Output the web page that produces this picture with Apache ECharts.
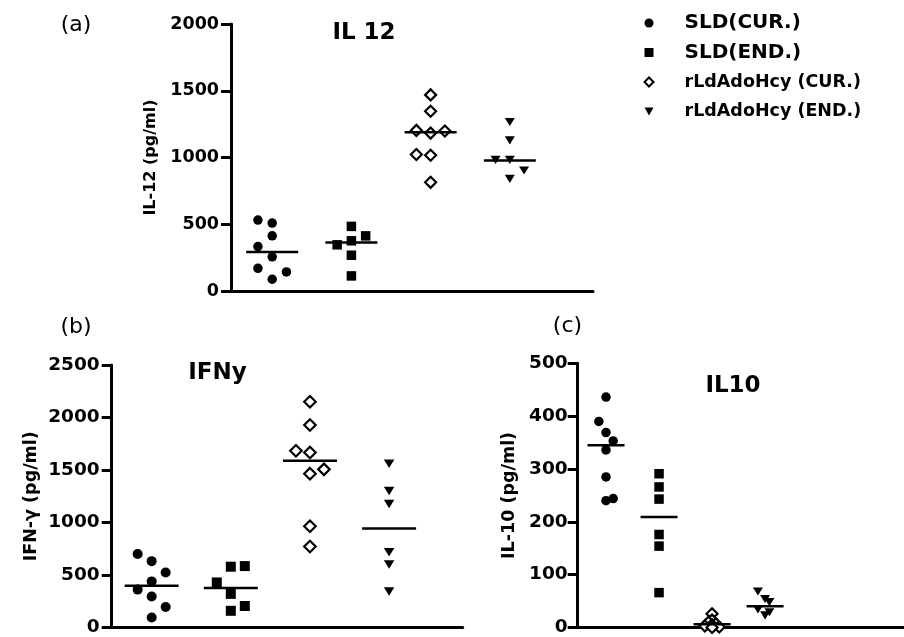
<!DOCTYPE html>
<html>
<head>
<meta charset="utf-8">
<script src="https://cdn.jsdelivr.net/npm/echarts@6/dist/echarts.min.js"></script>
<style>
  body { margin: 0; background: #fff; }
  #main { width: 904px; height: 637px; }
</style>
</head>
<body>
<div id="main"></div>
<script>
// groups (legend order)
var groups = ['SLD(CUR.)', 'SLD(END.)', 'rLdAdoHcy (CUR.)', 'rLdAdoHcy (END.)'];

// (a) IL 12, pg/ml
var il12Values = [
    [531, 509, 413, 333, 256, 170, 143, 88],
    [484, 413, 376, 346, 268, 113],
    [1469, 1346, 1203, 1183, 1198, 1022, 1017, 814],
    [1266, 1128, 982, 982, 902, 840]
];
var il12Lanes = [
    [-1, 0, 0, -1, 0, -1, 1, 0],
    [0, 1, 0, -1, 0, 0],
    [0, 0, -1, 0, 1, -1, 0, 0],
    [0, 0, -1, 0, 1, 0]
];
var il12Median = [293, 363, 1190, 977];
var il12Ticks = [0, 2000, 500];

// (b) IFN-gamma, pg/ml
var ifnValues = [
    [700, 632, 523, 439, 361, 296, 196, 96],
    [579, 585, 429, 320, 205, 159],
    [2150, 1929, 1683, 1667, 1465, 1506, 964, 772],
    [1559, 1300, 1176, 716, 600, 342]
];
var ifnLanes = [
    [-1, 0, 1, 0, -1, 0, 1, 0],
    [0, 1, -1, 0, 1, 0],
    [0, 0, -1, 0, 0, 1, 0, 0],
    [0, 0, 0, 0, 0, 0]
];
var ifnMedian = [398, 376, 1587, 943];
var ifnTicks = [0, 2500, 500];

// (c) IL-10, pg/ml
var il10Values = [
    [436, 390, 369, 353, 336, 285, 244, 240],
    [291, 266, 243, 176, 154, 66],
    [26, 14, 10, 7, 5, 3, 1, 0],
    [68, 54, 48, 34, 23, 29]
];
var il10Lanes = [
    [0, -1, 0, 1, 0, 0, 1, 0],
    [0, 0, 0, 0, 0, 0],
    [0, 0, -0.5, 0.5, 0, -1, 1, 0],
    [-1, 0, 0.6, -1, 0, 0.6]
];
var il10Median = [345, 209, 6, 40];
var il10Ticks = [0, 500, 100];

var FONT = 'DejaVu Sans';

// layout per panel
var panels = [
    { values: il12Values, lanes: il12Lanes, median: il12Median, ticks: il12Ticks,
      name: 'IL-12 (pg/ml)', nameSize: 16, nameGap: 72, labelSize: 17.5, labelMargin: 12,
      grid: { left: 231, top: 24, width: 362, height: 267 },
      xMin: -0.52, xMax: 4.05, spread: 0.18, lineW: 52, sym: 9.5 },
    { values: ifnValues, lanes: ifnLanes, median: ifnMedian, ticks: ifnTicks,
      name: 'IFN-γ (pg/ml)', nameSize: 17.5, nameGap: 71, labelSize: 18.5, labelMargin: 12,
      grid: { left: 111.7, top: 365, width: 351, height: 267.7 },
      xMin: -0.505, xMax: 3.93, spread: 0.177, lineW: 54, sym: 10 },
    { values: il10Values, lanes: il10Lanes, median: il10Median, ticks: il10Ticks,
      name: 'IL-10 (pg/ml)', nameSize: 17.5, nameGap: 59, labelSize: 18.5, labelMargin: 10,
      grid: { left: 577.7, top: 363.3, width: 326.3, height: 269 },
      xMin: -0.534, xMax: 5.62, spread: 0.135, lineW: 37, sym: 9.5 }
];

var triPath = 'path://M0,0L10,0L5,9Z';
var symbols = ['circle', 'rect', 'diamond', triPath];
var styles = [
    { color: '#000', opacity: 1 },
    { color: '#000', opacity: 1 },
    { color: '#fff', borderColor: '#000', borderWidth: 2.2, opacity: 1 },
    { color: '#000', opacity: 1 }
];

var grids = [], xAxes = [], yAxes = [], series = [];
panels.forEach(function (p, pi) {
    grids.push(p.grid);
    xAxes.push({
        type: 'value', gridIndex: pi, min: p.xMin, max: p.xMax,
        axisLine: { show: true, onZero: false, lineStyle: { color: '#000', width: 3 } },
        axisTick: { show: false }, axisLabel: { show: false }, splitLine: { show: false }
    });
    yAxes.push({
        type: 'value', gridIndex: pi, min: p.ticks[0], max: p.ticks[1], interval: p.ticks[2],
        name: p.name, nameLocation: 'middle', nameGap: p.nameGap, nameRotate: 90,
        nameTextStyle: { fontFamily: FONT, fontWeight: 'bold', fontSize: p.nameSize, color: '#000' },
        axisLine: { show: true, onZero: false, lineStyle: { color: '#000', width: 3 } },
        axisTick: { show: true, length: 10, lineStyle: { color: '#000', width: 3 } },
        axisLabel: { fontFamily: FONT, fontWeight: 'bold', fontSize: p.labelSize, color: '#000',
                     margin: p.labelMargin, formatter: function (v) { return String(v); } },
        splitLine: { show: false }
    });
    p.values.forEach(function (vals, g) {
        series.push({
            name: groups[g], type: 'scatter', xAxisIndex: pi, yAxisIndex: pi,
            symbol: symbols[g],
            symbolSize: g === 2 ? p.sym + 1.5 : (g === 3 ? [p.sym + 0.5, p.sym * 0.85] : p.sym),
            itemStyle: styles[g], silent: true, z: 2,
            data: vals.map(function (v, i) { return [g + p.lanes[g][i] * p.spread, v]; })
        });
    });
    series.push({
        name: 'median', type: 'scatter', xAxisIndex: pi, yAxisIndex: pi,
        symbol: 'rect', symbolSize: [p.lineW, 2.5], itemStyle: { color: '#000', opacity: 1 },
        silent: true, z: 3,
        data: p.median.map(function (m, g) { return [g, m]; })
    });
});

function textEl(str, x, y, size, weight) {
    return {
        type: 'text', x: x, y: y, silent: true,
        style: { text: str, fill: '#000', font: weight + ' ' + size + 'px "' + FONT + '"',
                 textAlign: 'center', textVerticalAlign: 'middle' }
    };
}

var legendText = { fontFamily: FONT, fontWeight: 'bold', color: '#000', lineHeight: 20, padding: [0, 0, 0, 26] };
function legItem(name, icon, size) {
    return { name: name, icon: icon,
             textStyle: Object.assign({}, legendText, { fontSize: size }) };
}

var myChart = echarts.init(document.getElementById('main'));
var option = {
    animation: false,
    backgroundColor: '#fff',
    grid: grids,
    xAxis: xAxes,
    yAxis: yAxes,
    legend: {
        orient: 'vertical', left: 643.5, top: 13, padding: 0,
        itemWidth: 9, itemHeight: 9, itemGap: 9.5,
        selectedMode: false,
        textStyle: legendText,
        data: [
            legItem(groups[0], 'circle', 20),
            legItem(groups[1], 'rect', 20),
            legItem(groups[2], 'diamond', 17.5),
            legItem(groups[3], triPath, 17.5)
        ]
    },
    graphic: [
        textEl('(a)', 76, 25, 22, 'normal'),
        textEl('(b)', 76, 327, 22, 'normal'),
        textEl('(c)', 567.5, 326, 22, 'normal'),
        textEl('IL 12', 364, 33, 23, 'bold'),
        textEl('IFNy', 217.5, 373, 23, 'bold'),
        textEl('IL10', 733, 386, 23, 'bold')
    ],
    series: series
};
myChart.setOption(option);
</script>
</body>
</html>
